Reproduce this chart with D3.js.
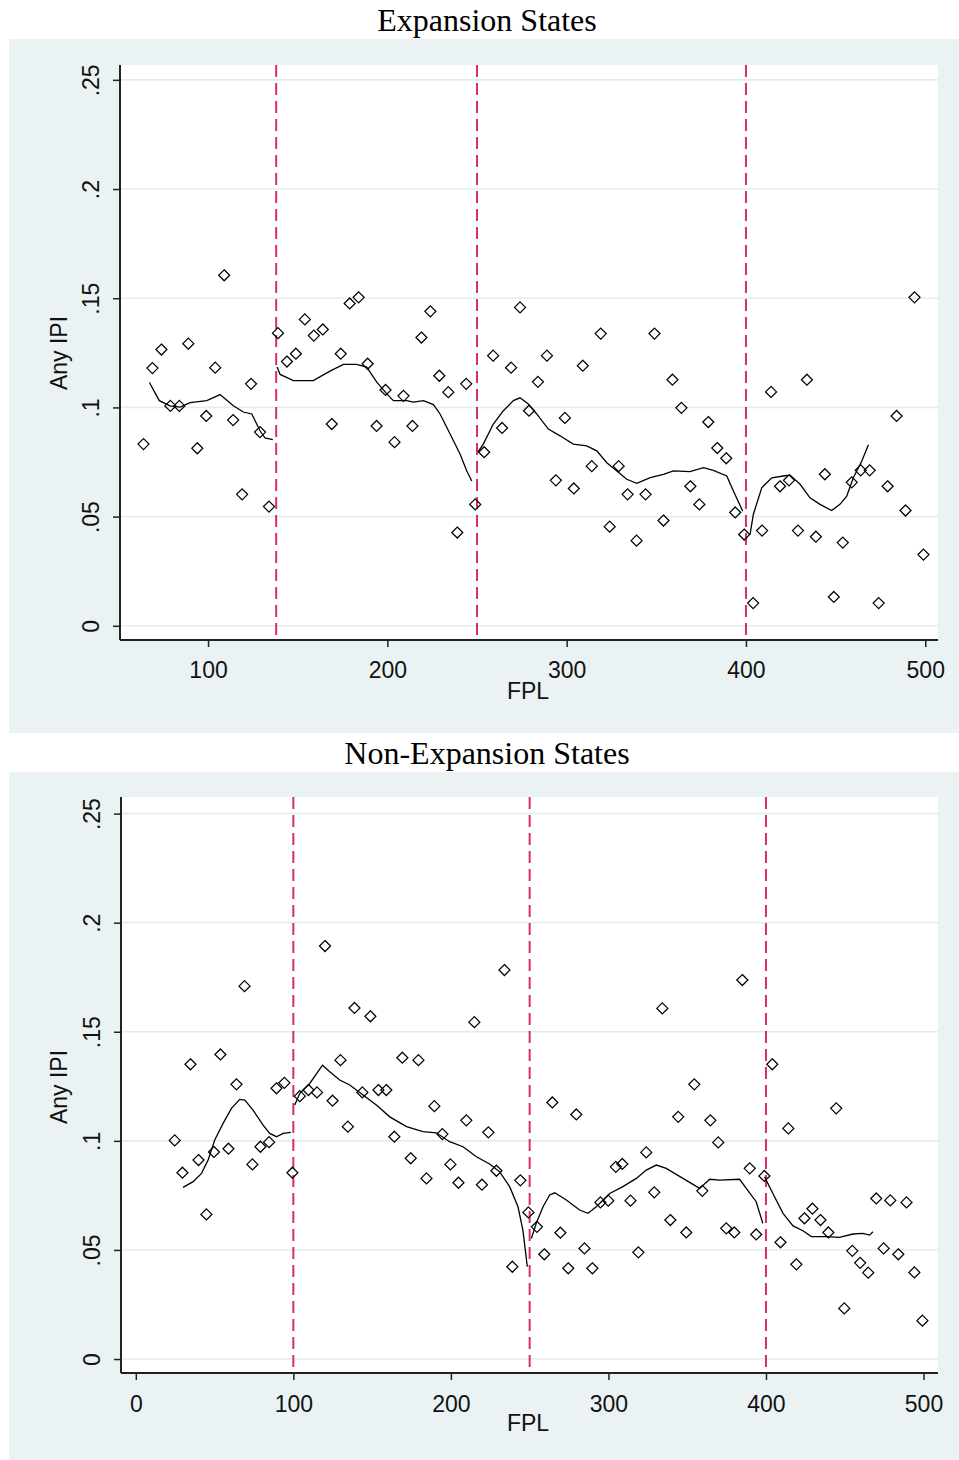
<!DOCTYPE html>
<html>
<head>
<meta charset="utf-8">
<script src="https://cdn.jsdelivr.net/npm/d3@7"></script>
<style>
  html, body { margin: 0; padding: 0; background: #ffffff; }
  svg { display: block; }
</style>
</head>
<body>
<svg id="chart" width="959" height="1460"></svg>
<script>
// ---------- DATA ----------
const expTitle = "Expansion States";
const nonTitle = "Non-Expansion States";
const xLabel = "FPL";
const yLabel = "Any IPI";

const yTicks = [0, 0.05, 0.1, 0.15, 0.2, 0.25];
const yTickLabels = ["0", ".05", ".1", ".15", ".2", ".25"];
const expXTicks = [100, 200, 300, 400, 500];
const nonXTicks = [0, 100, 200, 300, 400, 500];

const expCutoffs = [138, 250, 400];
const nonCutoffs = [100, 250, 400];

const expFPL = [64, 69, 74, 79, 84, 89, 94, 99, 104, 109, 114, 119, 124, 129, 134,
  139, 144, 149, 154, 159, 164, 169, 174, 179, 184, 189, 194, 199, 204, 209, 214, 219, 224, 229, 234, 239, 244, 249,
  254, 259, 264, 269, 274, 279, 284, 289, 294, 299, 304, 309, 314, 319, 324, 329, 334, 339, 344, 349, 354, 359, 364, 369, 374, 379, 384, 389, 394, 399,
  404, 409, 414, 419, 424, 429, 434, 439, 444, 449, 454, 459, 464, 469, 474, 479, 484, 489, 494, 499];
const expIPI = [0.0832, 0.118, 0.1265, 0.1007, 0.1007, 0.1292, 0.0813, 0.0961, 0.1182, 0.1605, 0.0942, 0.0602, 0.1108, 0.0887, 0.0546,
  0.134, 0.121, 0.1246, 0.1403, 0.1329, 0.1357, 0.0924, 0.1246, 0.1476, 0.1504, 0.120, 0.0915, 0.108, 0.0841, 0.1053, 0.0915, 0.132, 0.144, 0.1145, 0.107, 0.0427, 0.1108, 0.0556,
  0.0795, 0.1237, 0.0906, 0.1182, 0.1458, 0.0985, 0.1117, 0.1237, 0.0666, 0.0952, 0.0629, 0.1191, 0.0731, 0.1338, 0.0454, 0.0731, 0.0602, 0.039, 0.0602, 0.1338, 0.0482, 0.1127, 0.0998, 0.0639, 0.0556, 0.0933, 0.0814, 0.0767, 0.0519, 0.0418,
  0.0104, 0.0436, 0.1071, 0.0639, 0.0666, 0.0436, 0.1127, 0.0408, 0.0694, 0.0132, 0.0381, 0.0657, 0.0712, 0.0712, 0.0104, 0.0639, 0.0961, 0.0528, 0.1504, 0.0326];

// smoothed (lowess) segments, [FPL, value]
const expSmooth = [
  [[67.3,0.1114],[72.8,0.1031],[78.8,0.1007],[84.4,0.1001],[90,0.1022],[99.3,0.1031],[106.7,0.1059],[114.1,0.1008],[119.7,0.0979],[124.4,0.097],[129,0.0893],[131.8,0.086],[136.1,0.0853]],
  [[138.5,0.1185],[140.2,0.1151],[147.6,0.1123],[158.7,0.1123],[168,0.1166],[175.5,0.1197],[182.9,0.1197],[188.5,0.1185],[194.1,0.1116],[199.7,0.1062],[203.4,0.1031],[210.8,0.1031],[214.5,0.1024],[220.1,0.1031],[225.7,0.1013],[229.4,0.097],[235,0.0878],[240.6,0.0786],[244.3,0.0709],[247.1,0.0663]],
  [[250.5,0.0795],[253.5,0.0832],[259.1,0.0924],[264.7,0.0985],[270.3,0.1031],[274,0.1044],[278.6,0.1016],[283.3,0.097],[289.8,0.0901],[296.3,0.087],[303.7,0.0832],[311.2,0.0824],[316.8,0.0801],[322.4,0.0747],[328,0.0709],[333.5,0.0671],[339.1,0.0652],[346.6,0.0678],[354,0.0693],[359.5,0.0709],[368.8,0.0706],[376.3,0.0724],[381.8,0.0712],[389.3,0.0686],[393,0.0617],[398.2,0.0525]],
  [[402.3,0.0418],[404.1,0.051],[408.8,0.0632],[414.4,0.0678],[420.9,0.0686],[424.6,0.069],[430.2,0.0648],[435.7,0.0586],[441.3,0.0556],[447.8,0.0528],[452.4,0.0556],[456.2,0.0594],[459.9,0.0678],[464.6,0.0755],[468.3,0.0829]]
];

const nonFPL = [24.7, 29.6, 34.7, 39.8, 44.8, 49.6, 53.7, 58.8, 63.9, 69, 74, 79.1, 84.6, 89.3, 94.3, 99.4,
  104.1, 109.6, 115, 120.1, 124.9, 129.9, 134.6, 138.8, 143.8, 148.9, 154, 159, 164.1, 169.2, 174.5, 179.4, 184.5, 189.5, 194.6, 199.7, 204.8, 209.8, 214.9, 219.7, 223.8, 228.9, 234, 239, 244.1, 249.2,
  254.6, 259.3, 264.4, 269.5, 274.5, 279.6, 284.8, 289.8, 294.9, 299.9, 304.7, 308.8, 314, 319, 324, 329.1, 334.2, 339.3, 344.3, 349.4, 354.5, 359.6, 364.7, 369.7, 374.8, 379.9, 385, 389.7, 393.8, 399,
  404, 409.2, 414.2, 419.3, 424.4, 429.5, 434.6, 439.6, 444.6, 449.7, 454.8, 459.8, 464.9, 470, 474.7, 478.9, 484, 489.2, 494.2, 499.3];
const nonIPI = [0.1002, 0.0854, 0.1351, 0.0912, 0.0663, 0.0949, 0.1396, 0.0964, 0.1259, 0.1709, 0.0892, 0.0973, 0.0994, 0.1241, 0.1266, 0.0854,
  0.1205, 0.1233, 0.1222, 0.1893, 0.1184, 0.137, 0.1065, 0.1609, 0.1222, 0.1571, 0.1233, 0.1233, 0.1019, 0.1381, 0.092, 0.137, 0.0828, 0.1159, 0.1031, 0.0892, 0.0808, 0.1094, 0.1544, 0.0799, 0.1039, 0.0863, 0.1783, 0.0423, 0.0819, 0.0672,
  0.0606, 0.048, 0.1176, 0.0579, 0.0416, 0.1121, 0.0507, 0.0416, 0.0718, 0.0726, 0.0881, 0.0894, 0.0726, 0.0489, 0.0947, 0.0764, 0.1607, 0.0637, 0.111, 0.058, 0.1259, 0.0771, 0.1094, 0.0993, 0.0599, 0.058, 0.1737, 0.0874, 0.0571, 0.0839,
  0.1351, 0.0535, 0.1057, 0.0434, 0.0645, 0.0689, 0.0637, 0.058, 0.1149, 0.0232, 0.0496, 0.0441, 0.0396, 0.0736, 0.0507, 0.0727, 0.048, 0.0718, 0.0397, 0.0176];

const nonSmooth = [
  [[30,0.0787],[36.4,0.0813],[41.7,0.0851],[45.9,0.0912],[50.1,0.1004],[55.4,0.108],[60.7,0.1149],[66,0.119],[69.2,0.1187],[74.4,0.1141],[80.8,0.1072],[85,0.1034],[89.3,0.1019],[93.5,0.1034],[98.4,0.1039]],
  [[100.9,0.1164],[104.1,0.1218],[110.4,0.1263],[118.5,0.1347],[123.1,0.1317],[129.4,0.1279],[135.8,0.1256],[144.2,0.121],[152.7,0.1164],[161.2,0.111],[171.8,0.1065],[182.3,0.1042],[190.8,0.1037],[199.2,0.0996],[207.7,0.0973],[216.2,0.0927],[224.6,0.0894],[231,0.0858],[237.3,0.079],[242.6,0.0698],[245.7,0.0591],[247.5,0.0484],[248.5,0.0423]],
  [[251.1,0.0553],[254.2,0.0622],[258.5,0.0698],[262.7,0.0752],[265.9,0.0762],[273.3,0.0729],[281.7,0.0683],[287,0.0668],[292.3,0.0698],[300.8,0.0759],[309.2,0.079],[317.7,0.0828],[324,0.0866],[330.4,0.0889],[336.7,0.0874],[347.3,0.0828],[357.9,0.0782],[364.3,0.0824],[370.6,0.082],[383.3,0.0824],[387.5,0.0782],[393.8,0.0721],[398,0.0622]],
  [[399.1,0.0835],[404.4,0.0759],[410.8,0.0668],[417.2,0.061],[423.5,0.0588],[428.8,0.0561],[438.3,0.0561],[446.7,0.0558],[455.2,0.0573],[461.5,0.0576],[465.8,0.0568],[467.9,0.0583]]
];

// ---------- DRAWING ----------
const svg = d3.select("#chart");
const bgColor = "#eaf2f3";
const redColor = "#d7305a";
const sansFont = "'Liberation Sans', Arial, sans-serif";
const serifFont = "'Liberation Serif', 'Times New Roman', serif";

function drawPanel(cfg) {
  const g = svg.append("g");
  // title
  g.append("text")
    .attr("x", cfg.titleX).attr("y", cfg.titleY)
    .attr("text-anchor", "middle")
    .attr("font-family", serifFont).attr("font-size", 32)
    .attr("fill", "#000")
    .text(cfg.title);
  // panel background
  g.append("rect")
    .attr("x", cfg.bg[0]).attr("y", cfg.bg[1]).attr("width", cfg.bg[2]).attr("height", cfg.bg[3])
    .attr("fill", bgColor);
  // plot area
  const x = d3.scaleLinear().domain(cfg.xDomain).range([cfg.left, cfg.right]);
  const y = d3.scaleLinear().domain(cfg.yDomain).range([cfg.bottom, cfg.top]);
  g.append("rect")
    .attr("x", cfg.left).attr("y", cfg.top)
    .attr("width", cfg.right - cfg.left).attr("height", cfg.bottom - cfg.top)
    .attr("fill", "#fff");
  // gridlines
  g.append("g").selectAll("line").data(yTicks).join("line")
    .attr("x1", cfg.left).attr("x2", cfg.right)
    .attr("y1", d => y(d)).attr("y2", d => y(d))
    .attr("stroke", "#e3edef").attr("stroke-width", 1.6);
  // dashed cutoff lines
  g.append("g").selectAll("line").data(cfg.cutoffs).join("line")
    .attr("x1", d => x(d)).attr("x2", d => x(d))
    .attr("y1", cfg.top).attr("y2", cfg.bottom)
    .attr("stroke", redColor).attr("stroke-width", 2)
    .attr("stroke-dasharray", "12,6");
  // smooth lines
  const line = d3.line().x(d => x(d[0])).y(d => y(d[1]));
  g.append("g").selectAll("path").data(cfg.smooth).join("path")
    .attr("d", line)
    .attr("fill", "none").attr("stroke", "#000").attr("stroke-width", 1.3);
  // markers
  const pts = cfg.fpl.map((f, i) => [f, cfg.ipi[i]]);
  const s = 5.5;
  g.append("g").selectAll("path").data(pts).join("path")
    .attr("transform", d => `translate(${x(d[0])},${y(d[1])})`)
    .attr("d", `M0,${-s}L${s},0L0,${s}L${-s},0Z`)
    .attr("fill", "none").attr("stroke", "#000").attr("stroke-width", 1.25);
  // axes
  const yAxis = d3.axisLeft(y).tickValues(yTicks).tickFormat((d, i) => yTickLabels[i]).tickSize(7).tickPadding(4);
  const ya = g.append("g").attr("transform", `translate(${cfg.left},0)`).call(yAxis);
  ya.select(".domain").attr("d", `M0,${cfg.top}V${cfg.bottom}`).attr("stroke", "#222").attr("stroke-width", 2);
  ya.selectAll(".tick line").attr("stroke", "#222").attr("stroke-width", 1.5);
  ya.selectAll(".tick text")
    .attr("font-family", sansFont).attr("font-size", 23).attr("fill", "#111")
    .attr("text-anchor", "middle")
    .attr("x", null).attr("dy", null)
    .attr("transform", "translate(-21,0) rotate(-90)")
    .attr("y", 0);

  const xAxis = d3.axisBottom(x).tickValues(cfg.xTicks).tickFormat(d3.format("d")).tickSize(7).tickPadding(4);
  const xa = g.append("g").attr("transform", `translate(0,${cfg.bottom})`).call(xAxis);
  xa.select(".domain").attr("d", `M${cfg.left},0H${cfg.right}`).attr("stroke", "#222").attr("stroke-width", 2);
  xa.selectAll(".tick line").attr("stroke", "#222").attr("stroke-width", 1.5);
  xa.selectAll(".tick text")
    .attr("font-family", sansFont).attr("font-size", 23).attr("fill", "#111")
    .attr("dy", null).attr("y", cfg.xTickBaseline);

  // axis titles
  g.append("text")
    .attr("x", cfg.xLabelX).attr("y", cfg.xLabelY)
    .attr("text-anchor", "middle")
    .attr("font-family", sansFont).attr("font-size", 23).attr("fill", "#111")
    .text(xLabel);
  g.append("text")
    .attr("transform", `translate(67,${cfg.yLabelY}) rotate(-90)`)
    .attr("text-anchor", "middle")
    .attr("font-family", sansFont).attr("font-size", 23).attr("fill", "#111")
    .text(yLabel);
}

drawPanel({
  title: expTitle, titleX: 487, titleY: 31,
  bg: [9, 39, 950, 694],
  left: 120, right: 938, top: 65, bottom: 640,
  xDomain: [50.9, 507.1], yDomain: [-0.0065, 0.2568],
  xTicks: expXTicks, cutoffs: expCutoffs,
  fpl: expFPL, ipi: expIPI, smooth: expSmooth,
  xTickBaseline: 38, xLabelX: 528, xLabelY: 699, yLabelY: 353
});

drawPanel({
  title: nonTitle, titleX: 487, titleY: 764,
  bg: [9, 772, 950, 688],
  left: 121, right: 938, top: 797, bottom: 1373,
  xDomain: [-9.4, 509.2], yDomain: [-0.0064, 0.2576],
  xTicks: nonXTicks, cutoffs: nonCutoffs,
  fpl: nonFPL, ipi: nonIPI, smooth: nonSmooth,
  xTickBaseline: 39, xLabelX: 528, xLabelY: 1431, yLabelY: 1087
});
</script>
</body>
</html>
